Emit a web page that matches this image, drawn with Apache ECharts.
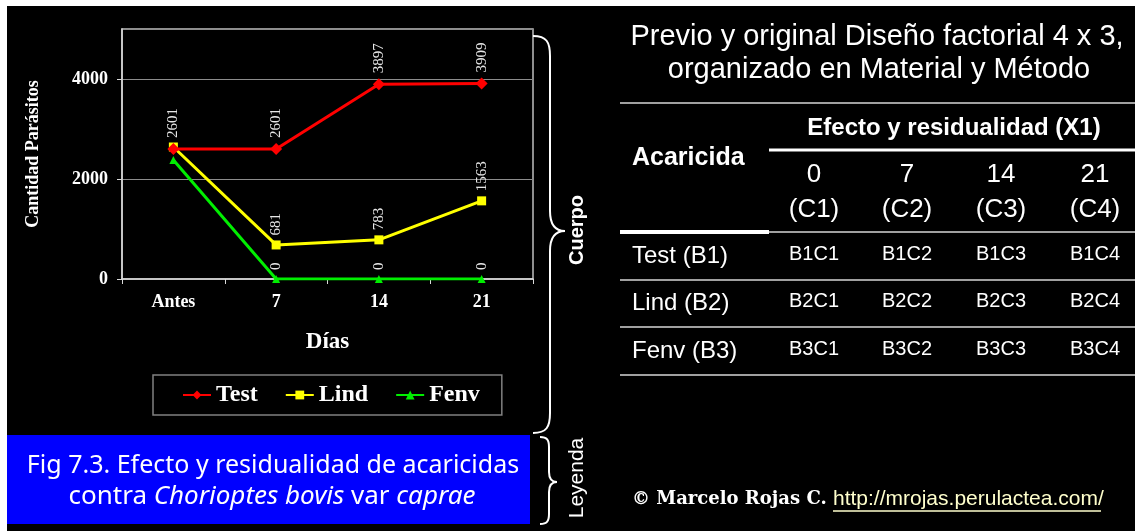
<!DOCTYPE html>
<html>
<head>
<meta charset="utf-8">
<script src="https://cdn.jsdelivr.net/npm/echarts@6/dist/echarts.min.js"></script>
<style>
  html, body { margin: 0; padding: 0; background: #fff; }
  #container { width: 1135px; height: 531px; }
</style>
</head>
<body>
<div id="container"></div>
<script>
    // datos
    var dias = ['Antes', '7', '14', '21'];
    var test = [2601, 2601, 3897, 3909];
    var lind = [2640, 681, 783, 1563];
    var fenv = [2380, 0, 0, 0];

    // tabla del diseno factorial
    var colDias = ['0', '7', '14', '21'];
    var colCod = ['(C1)', '(C2)', '(C3)', '(C4)'];
    var filas = ['Test (B1)', 'Lind (B2)', 'Fenv (B3)'];
    var filaCod = ['B1', 'B2', 'B3'];
    var colCodCorto = ['C1', 'C2', 'C3', 'C4'];

    var serif = "'Liberation Serif', 'Times New Roman', serif";
    var sans = "'Liberation Sans', Arial, sans-serif";

    var dom = document.getElementById('container');
    var myChart = echarts.init(dom);

    // etiquetas giradas sobre los puntos
    function etiqueta() {
        return {
            show: true, position: 'top', rotate: 90, align: 'left', verticalAlign: 'middle',
            distance: 5, color: '#e6e6e6', fontFamily: serif, fontSize: 15
        };
    }
    function sinPrimera(arr) {
        return arr.map(function (v, i) {
            return i === 0 ? { value: v, label: { show: false } } : v;
        });
    }

    var colX = [814, 907, 1001, 1095];
    var elementos = [];
    // margen blanco
    elementos.push({ type: 'rect', shape: { x: 0, y: 0, width: 1135, height: 6 }, style: { fill: '#fff' } });
    elementos.push({ type: 'rect', shape: { x: 0, y: 0, width: 7, height: 531 }, style: { fill: '#fff' } });

    function linea(x1, y1, x2, y2, color, w) {
        elementos.push({ type: 'line', shape: { x1: x1, y1: y1, x2: x2, y2: y2 }, style: { stroke: color, lineWidth: w } });
    }
    function curva(x1, y1, c1x, c1y, c2x, c2y, x2, y2) {
        elementos.push({ type: 'bezierCurve',
            shape: { x1: x1, y1: y1, cpx1: c1x, cpy1: c1y, cpx2: c2x, cpy2: c2y, x2: x2, y2: y2 },
            style: { stroke: '#fff', lineWidth: 2, fill: null } });
    }
    // llave: x0 extremo, xv recta, xp punta, y0 arriba, yp punta, y1 abajo, r radio
    function llave(x0, xv, xp, y0, yp, y1, r) {
        curva(x0, y0, x0 + (xv - x0) * 0.8, y0, xv, y0 + r * 0.3, xv, y0 + r);
        linea(xv, y0 + r, xv, yp - r, '#fff', 2);
        curva(xv, yp - r, xv, yp - r * 0.3, xp - (xp - xv) * 0.6, yp, xp, yp);
        curva(xp, yp, xp - (xp - xv) * 0.6, yp, xv, yp + r * 0.3, xv, yp + r);
        linea(xv, yp + r, xv, y1 - r, '#fff', 2);
        curva(xv, y1 - r, xv, y1 - r * 0.3, x0 + (xv - x0) * 0.8, y1, x0, y1);
    }
    llave(533, 550, 565, 36, 231, 433, 20);
    llave(540, 549, 557, 437, 482, 524, 10);

    elementos.push({ type: 'text', x: 577, y: 230, rotation: Math.PI / 2,
        style: { text: 'Cuerpo', fill: '#fff', font: 'bold 20px ' + sans, align: 'center', verticalAlign: 'middle' } });
    elementos.push({ type: 'text', x: 577, y: 478, rotation: Math.PI / 2,
        style: { text: 'Leyenda', fill: '#fff', font: '21px ' + sans, align: 'center', verticalAlign: 'middle' } });

    // leyenda azul
    var fuenteFig = "'Noto Sans', sans-serif";
    elementos.push({ type: 'rect', shape: { x: 7, y: 435, width: 523, height: 89 }, style: { fill: '#0000ff' } });
    elementos.push({ type: 'text', x: 273, y: 466,
        style: { text: 'Fig 7.3. Efecto y residualidad de acaricidas', fill: '#fff', fontSize: 25, fontFamily: fuenteFig, align: 'center', verticalAlign: 'middle' } });
    elementos.push({ type: 'text', x: 272, y: 497,
        style: { text: 'contra {i|Chorioptes bovis} var {i|caprae}', fill: '#fff', fontSize: 26, fontFamily: fuenteFig, align: 'center', verticalAlign: 'middle',
            rich: { i: { fontStyle: 'italic', fontSize: 26, fontFamily: fuenteFig, fill: '#fff' } } } });

    // titulo derecha
    elementos.push({ type: 'text', x: 877, y: 37,
        style: { text: 'Previo y original Diseño factorial 4 x 3,', fill: '#fff', font: '29px ' + sans, align: 'center', verticalAlign: 'middle' } });
    elementos.push({ type: 'text', x: 879, y: 70,
        style: { text: 'organizado en Material y Método', fill: '#fff', font: '29px ' + sans, align: 'center', verticalAlign: 'middle' } });

    // lineas de la tabla
    linea(620, 103, 1135, 103, '#a0a0a0', 2);
    linea(769, 150, 1135, 150, '#ffffff', 3);
    linea(620, 232, 769, 232, '#ffffff', 4);
    linea(769, 232, 1135, 232, '#a0a0a0', 2);
    linea(620, 280, 1135, 280, '#a0a0a0', 2);
    linea(620, 327, 1135, 327, '#a0a0a0', 2);
    linea(620, 375, 1135, 375, '#a0a0a0', 2);

    function texto(t, x, y, font, align) {
        elementos.push({ type: 'text', x: x, y: y,
            style: { text: t, fill: '#fff', font: font, align: align || 'center', verticalAlign: 'middle' } });
    }
    texto('Efecto y residualidad (X1)', 954, 128, 'bold 24px ' + sans);
    texto('Acaricida', 632, 158, 'bold 25px ' + sans, 'left');
    colDias.forEach(function (d, j) {
        texto(d, colX[j], 175, '26px ' + sans);
        texto(colCod[j], colX[j], 210, '26px ' + sans);
    });
    var filaY = [256, 303, 351];
    filas.forEach(function (f, i) {
        texto(f, 632, filaY[i], '24px ' + sans, 'left');
        colCodCorto.forEach(function (c, j) {
            texto(filaCod[i] + c, colX[j], filaY[i] - 2, '20px ' + sans);
        });
    });

    // derechos
    texto('© Marcelo Rojas C.', 632, 499, "bold 18px 'DejaVu Serif', serif", 'left');
    elementos.push({ type: 'text', x: 833, y: 499,
        style: { text: 'http://mrojas.perulactea.com/', fill: '#ffffcc', font: '21px ' + sans, align: 'left', verticalAlign: 'middle' } });
    linea(833, 511, 1101, 511, '#ffffcc', 1.5);

    var option = {
        backgroundColor: '#000',
        animation: false,
        graphic: { elements: elementos },
        grid: { left: 122, right: 602, top: 29, bottom: 252, show: true, borderColor: '#bfbfbf', borderWidth: 1.5 },
        legend: {
            left: 153, top: 375, itemGap: 27, itemWidth: 28, itemHeight: 11,
            padding: [8, 22, 8, 29], borderColor: '#808080', borderWidth: 1.5,
            textStyle: { color: '#fff', fontFamily: serif, fontWeight: 'bold', fontSize: 24 },
            data: ['Test', 'Lind', 'Fenv']
        },
        xAxis: {
            type: 'category',
            data: dias,
            name: 'Días', nameLocation: 'middle', nameGap: 52,
            nameTextStyle: { color: '#fff', fontFamily: serif, fontWeight: 'bold', fontSize: 23 },
            axisLine: { lineStyle: { color: '#d9d9d9', width: 1.5 } },
            axisTick: { show: true, length: 5, lineStyle: { color: '#d9d9d9' } },
            axisLabel: { color: '#fff', fontFamily: serif, fontWeight: 'bold', fontSize: 18, margin: 14 }
        },
        yAxis: {
            type: 'value', min: 0, max: 5000, interval: 2000,
            name: 'Cantidad Parásitos', nameLocation: 'middle', nameGap: 80, nameRotate: 90,
            nameTextStyle: { color: '#fff', fontFamily: serif, fontWeight: 'bold', fontSize: 18 },
            axisLine: { show: true, lineStyle: { color: '#d9d9d9', width: 1.5 } },
            axisTick: { show: true, length: 5, lineStyle: { color: '#d9d9d9' } },
            axisLabel: { color: '#fff', fontFamily: serif, fontWeight: 'bold', fontSize: 18, margin: 14, showMaxLabel: false,
                formatter: function (v) { return String(v); } },
            splitLine: { lineStyle: { color: '#8c8c8c', width: 1 } }
        },
        series: [
            { name: 'Test', type: 'line', data: test, color: '#ff0000', symbol: 'diamond', symbolSize: 12,
              lineStyle: { width: 3 }, label: etiqueta(), z: 4 },
            { name: 'Lind', type: 'line', data: sinPrimera(lind), color: '#ffff00', symbol: 'rect', symbolSize: 9,
              lineStyle: { width: 3 }, label: etiqueta(), z: 3 },
            { name: 'Fenv', type: 'line', data: sinPrimera(fenv), color: '#00ee00', symbol: 'triangle', symbolSize: 8,
              lineStyle: { width: 3 }, label: etiqueta(), z: 2 }
        ]
    };

    if (option && typeof option === 'object') {
        myChart.setOption(option);
    }
</script>
</body>
</html>
